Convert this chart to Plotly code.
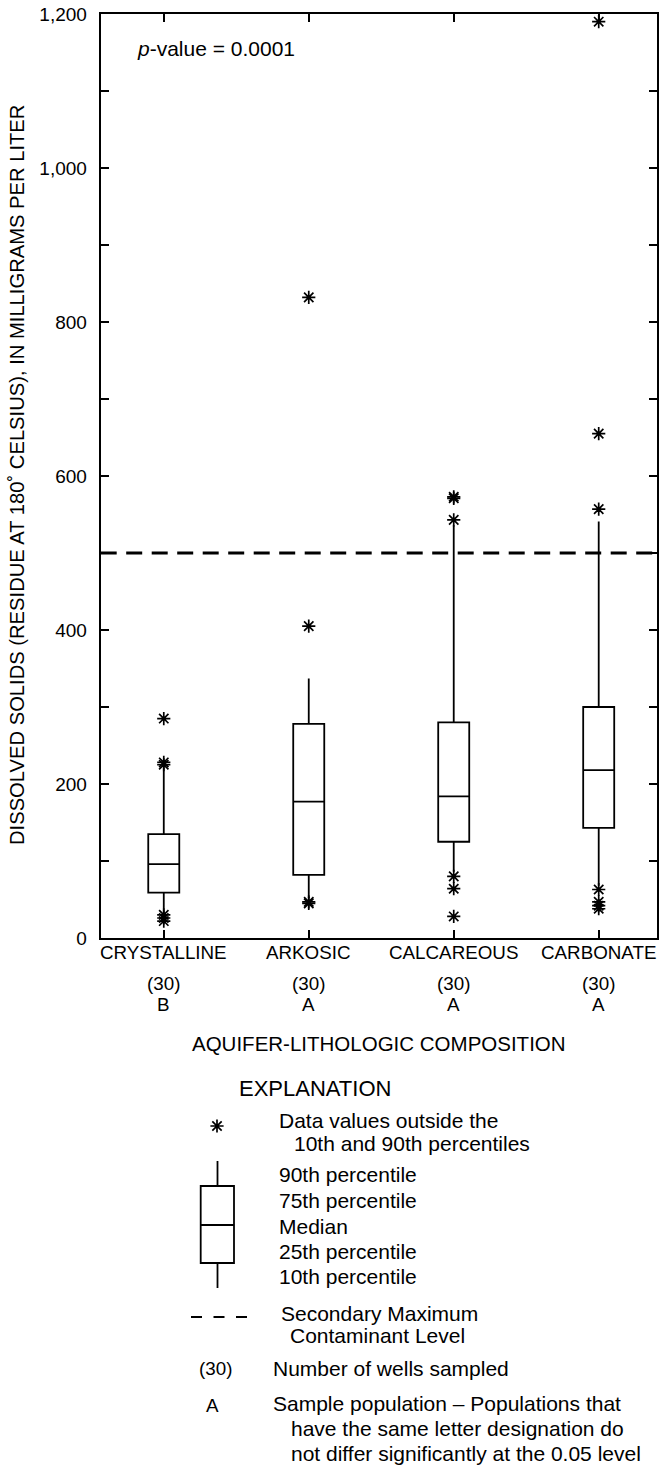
import plotly.graph_objects as go

W, H = 669, 1465
FONT = "Liberation Sans, Arial, Helvetica, sans-serif"

# ---- data -----------------------------------------------------------------
categories = ["CRYSTALLINE", "ARKOSIC", "CALCAREOUS", "CARBONATE"]
wells = ["(30)", "(30)", "(30)", "(30)"]
groups = ["B", "A", "A", "A"]

p10 = [33, 52, 86, 68]
p25 = [59, 82, 125, 143]
p50 = [96, 177, 184, 218]
p75 = [135, 278, 280, 300]
p90 = [220, 337, 536, 541]

outliers_crystalline = [285, 228, 225, 30, 26, 22]
outliers_arkosic = [832, 405, 47, 45]
outliers_calcareous = [573, 571, 543, 80, 64, 28]
outliers_carbonate = [1190, 655, 557, 63, 47, 42, 38]

smcl = 500  # secondary maximum contaminant level, mg/L

y_tick_values = [0, 100, 200, 300, 400, 500, 600, 700, 800, 900, 1000, 1100, 1200]
y_tick_labels = ["0", "", "200", "", "400", "", "600", "", "800", "", "1,000", "", "1,200"]

# ---- page geometry (pixels) -------------------------------------------------
PL, PR, PT, PB = 100.7, 656.7, 14, 938


def fx(px):
    return px / W


def fy(py):
    return 1 - py / H


fig = go.Figure()

fig.add_trace(go.Box(
    x=list(range(len(categories))),
    q1=p25, median=p50, q3=p75, lowerfence=p10, upperfence=p90,
    boxpoints=False, whiskerwidth=0, width=0.214,
    fillcolor="white", line=dict(color="black", width=1.8),
    hoverinfo="skip", showlegend=False,
))

outlier_sets = [outliers_crystalline, outliers_arkosic, outliers_calcareous, outliers_carbonate]
ox, oy = [], []
for i, vals in enumerate(outlier_sets):
    ox += [i] * len(vals)
    oy += vals

star = dict(symbol="asterisk-open", size=11, color="black",
            line=dict(color="black", width=1.7))

fig.add_trace(go.Scatter(x=ox, y=oy, mode="markers", marker=star,
                         hoverinfo="skip", showlegend=False, cliponaxis=False))

# explanation glyph for outliers, on a pixel-scaled helper axis
fig.add_trace(go.Scatter(x=[217], y=[1126], mode="markers", marker=star,
                         xaxis="x2", yaxis="y2", hoverinfo="skip",
                         showlegend=False, cliponaxis=False))

axis_common = dict(showline=True, linecolor="black", linewidth=2, mirror="ticks",
                   ticks="inside", ticklen=8, tickwidth=1.5, tickcolor="black",
                   showgrid=False, zeroline=False,
                   tickfont=dict(family=FONT, size=19, color="black"))

fig.update_layout(
    width=W, height=H,
    margin=dict(l=0, r=0, t=0, b=0, pad=0),
    paper_bgcolor="white", plot_bgcolor="rgba(0,0,0,0)",
    showlegend=False,
    xaxis=dict(domain=[fx(PL), fx(PR)], range=[-0.435, 3.4],
               tickvals=list(range(len(categories))), showticklabels=False,
               automargin=False, **axis_common),
    yaxis=dict(domain=[fy(PB), fy(PT)], range=[0, 1200],
               tickvals=y_tick_values, ticktext=y_tick_labels,
               ticklabelstandoff=8, automargin=False, **axis_common),
    xaxis2=dict(domain=[0, 1], range=[0, W], visible=False, anchor="y2"),
    yaxis2=dict(domain=[0, fy(1060)], range=[H, 1060], visible=False, anchor="x2"),
)

shapes = []
# secondary maximum contaminant level
shapes.append(dict(type="line", xref="x domain", x0=0, x1=1, yref="y", y0=smcl, y1=smcl,
                   line=dict(color="black", width=3, dash="16px,9.5px")))

# explanation box glyph
lw = dict(color="black", width=1.8)
bx0, bx1, bxc = 200.7, 234, 217.5
shapes += [
    dict(type="rect", xref="paper", yref="paper", x0=fx(bx0), x1=fx(bx1),
         y0=fy(1263), y1=fy(1186), line=lw, fillcolor="white"),
    dict(type="line", xref="paper", yref="paper", x0=fx(bx0), x1=fx(bx1),
         y0=fy(1225), y1=fy(1225), line=lw),
    dict(type="line", xref="paper", yref="paper", x0=fx(bxc), x1=fx(bxc),
         y0=fy(1161), y1=fy(1186), line=lw),
    dict(type="line", xref="paper", yref="paper", x0=fx(bxc), x1=fx(bxc),
         y0=fy(1263), y1=fy(1288), line=lw),
    dict(type="line", xref="paper", yref="paper", x0=fx(191), x1=fx(247),
         y0=fy(1317), y1=fy(1317),
         line=dict(color="black", width=2, dash="11px,11.5px")),
]

annotations = []


def text(s, x, y, size=21, xanchor="left", **kw):
    d = dict(text=s, xref="paper", yref="paper", x=fx(x), y=fy(y),
             xanchor=xanchor, yanchor="middle", showarrow=False,
             font=dict(family=FONT, size=size, color="black"))
    d.update(kw)
    annotations.append(d)


# category names, well counts and group letters under each box
for i in range(len(categories)):
    for label, py in ((categories[i], 952), (wells[i], 983), (groups[i], 1004)):
        annotations.append(dict(text=label, xref="x", yref="paper", x=i, y=fy(py),
                                xanchor="center", yanchor="middle", showarrow=False,
                                font=dict(family=FONT, size=18.8, color="black")))

text("AQUIFER-LITHOLOGIC COMPOSITION", (PL + PR) / 2, 1043, size=20.5, xanchor="center")
text("DISSOLVED SOLIDS (RESIDUE AT 180˚ CELSIUS), IN MILLIGRAMS PER LITER",
     17, (PT + PB) / 2 - 1, size=20.2, xanchor="center", textangle=-90)
text("<i>p</i>-value = 0.0001", 135, 48, size=21)

text("EXPLANATION", 315, 1088, size=22, xanchor="center")
text("Data values outside the", 277, 1120)
text("10th and 90th percentiles", 292, 1143)
text("90th percentile", 277, 1174)
text("75th percentile", 277, 1200)
text("Median", 277, 1226)
text("25th percentile", 277, 1251)
text("10th percentile", 277, 1276)
text("Secondary Maximum", 279, 1313)
text("Contaminant Level", 288, 1335)
text("(30)", 215, 1368, size=18.8, xanchor="center")
text("Number of wells sampled", 271, 1368)
text("A", 213, 1405, size=18.8, xanchor="center")
text("Sample population – Populations that", 271, 1403)
text("have the same letter designation do", 289, 1428)
text("not differ significantly at the 0.05 level", 289, 1453)

fig.update_layout(shapes=shapes, annotations=annotations)

fig.write_html("out.html")
